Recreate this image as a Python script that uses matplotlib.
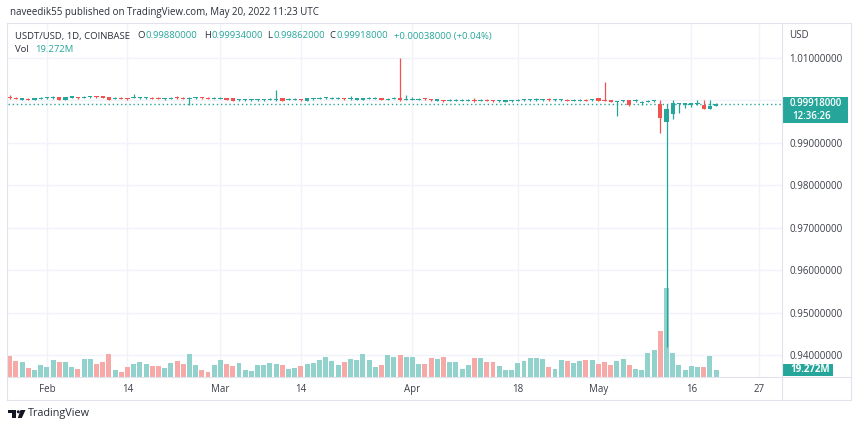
import numpy as np
import pandas as pd
import matplotlib
matplotlib.use("Agg")
import matplotlib.pyplot as plt
import matplotlib.dates as mdates
import matplotlib.transforms as mtransforms
from matplotlib.patches import Rectangle, Polygon, Circle

plt.rcParams['font.family'] = ['Open Sans', 'DejaVu Sans']

# -------------------------------------------------
# colours
# -------------------------------------------------
UP = '#26a69a'
DOWN = '#ef5350'
UP_VOL = '#92d2cc'
DOWN_VOL = '#f7a9a7'
TXT = '#3b3e48'
DARK = '#2a2e39'
GRID = '#f0f3fa'
BORDER = '#e0e3eb'

# -------------------------------------------------
# data: USDT/USD daily, Coinbase
# -------------------------------------------------
dates = pd.date_range('2022-01-26', '2022-05-20', freq='D')

opens = [
    1.00090, 1.00067, 1.00020, 1.00043, 1.00020, 1.00037, 1.00051, 1.00051, 1.00082, 1.00022,
    1.00068, 1.00081, 1.00060, 1.00075, 1.00105, 1.00098, 1.00082, 1.00037, 1.00067, 1.00057,
    1.00060, 1.00051, 1.00051, 1.00067, 1.00067, 1.00027, 1.00037, 1.00081, 1.00067, 1.00037,
    1.00051, 1.00081, 1.00067, 1.00037, 1.00037, 1.00050, 1.00058, 1.00004, 1.00004, 1.00004,
    1.00004, 1.00004, 1.00013, 1.00009, 1.00058, 1.00013, 1.00013, 1.00034, 0.99989, 1.00027,
    1.00037, 1.00051, 1.00037, 1.00037, 1.00057, 1.00027, 1.00020, 1.00020, 1.00037, 1.00037,
    1.00050, 1.00013, 1.00037, 1.00050, 1.00013, 1.00013, 1.00013, 1.00057, 1.00034, 0.99997,
    1.00010, 0.99990, 0.99990, 0.99990, 0.99990, 1.00020, 0.99990, 1.00020, 1.00010, 0.99980,
    0.99973, 0.99980, 0.99990, 1.00004, 1.00004, 1.00004, 1.00004, 1.00034, 1.00004, 1.00004,
    1.00020, 0.99990, 0.99990, 1.00020, 1.00004, 1.00058, 1.00010, 1.00000, 0.99970, 0.99980,
    1.00010, 0.99980, 0.99930, 0.99970, 0.99980, 0.99917, 0.99493, 0.99682, 0.99906, 0.99903,
    0.99900, 0.99910, 0.99894, 0.99800, 0.99880,
]
highs = [
    1.00120, 1.00077, 1.00060, 1.00053, 1.00060, 1.00077, 1.00091, 1.00100, 1.00092, 1.00092,
    1.00108, 1.00091, 1.00100, 1.00115, 1.00115, 1.00108, 1.00092, 1.00077, 1.00077, 1.00067,
    1.00153, 1.00091, 1.00091, 1.00077, 1.00077, 1.00067, 1.00077, 1.00115, 1.00077, 1.00077,
    1.00091, 1.00091, 1.00077, 1.00077, 1.00077, 1.00060, 1.00068, 1.00044, 1.00044, 1.00044,
    1.00044, 1.00044, 1.00053, 1.00248, 1.00068, 1.00053, 1.00053, 1.00044, 1.00059, 1.00067,
    1.00077, 1.00091, 1.00077, 1.00077, 1.00067, 1.00100, 1.00060, 1.00060, 1.00077, 1.00077,
    1.00060, 1.00053, 1.00077, 1.01000, 1.00130, 1.00075, 1.00053, 1.00067, 1.00044, 1.00037,
    1.00020, 1.00030, 1.00030, 1.00030, 1.00030, 1.00050, 1.00030, 1.00030, 1.00020, 1.00020,
    1.00013, 1.00020, 1.00030, 1.00044, 1.00044, 1.00060, 1.00044, 1.00070, 1.00044, 1.00044,
    1.00030, 1.00030, 1.00030, 1.00030, 1.00044, 1.00068, 1.00440, 1.00010, 0.99995, 1.00005,
    1.00020, 1.00025, 0.99980, 1.00010, 1.00020, 1.00000, 0.99917, 1.00012, 0.99950, 0.99945,
    0.99945, 1.00000, 1.00012, 1.00012, 0.99934,
]
lows = [
    1.00045, 1.00027, 1.00010, 1.00003, 1.00010, 1.00027, 1.00041, 1.00041, 1.00012, 1.00012,
    1.00058, 1.00041, 1.00050, 1.00065, 1.00065, 1.00058, 1.00012, 1.00027, 1.00027, 1.00017,
    1.00050, 1.00041, 1.00041, 1.00027, 1.00027, 1.00017, 1.00027, 1.00041, 1.00027, 0.99894,
    1.00041, 1.00041, 1.00027, 1.00027, 1.00027, 1.00010, 0.99988, 0.99994, 0.99994, 0.99994,
    0.99994, 0.99994, 1.00003, 0.99999, 0.99988, 1.00003, 1.00003, 0.99994, 0.99979, 1.00017,
    1.00027, 1.00041, 1.00027, 1.00027, 1.00017, 1.00017, 1.00010, 1.00010, 1.00027, 1.00027,
    1.00010, 1.00003, 1.00027, 0.99995, 1.00003, 1.00003, 1.00003, 1.00017, 0.99994, 0.99987,
    0.99970, 0.99980, 0.99980, 0.99980, 0.99980, 0.99960, 0.99980, 0.99980, 0.99970, 0.99970,
    0.99963, 0.99970, 0.99980, 0.99994, 0.99994, 0.99994, 0.99994, 0.99994, 0.99994, 0.99994,
    0.99980, 0.99980, 0.99980, 0.99980, 0.99994, 0.99988, 0.99980, 0.99960, 0.99630, 0.99970,
    0.99880, 0.99970, 0.99890, 0.99960, 0.99970, 0.99233, 0.94186, 0.99564, 0.99705, 0.99823,
    0.99847, 0.99895, 0.99790, 0.99790, 0.99862,
]
closes = [
    1.00060, 1.00037, 1.00050, 1.00013, 1.00050, 1.00067, 1.00081, 1.00081, 1.00022, 1.00082,
    1.00098, 1.00051, 1.00090, 1.00105, 1.00075, 1.00068, 1.00022, 1.00067, 1.00037, 1.00027,
    1.00090, 1.00081, 1.00081, 1.00037, 1.00037, 1.00057, 1.00067, 1.00051, 1.00037, 1.00067,
    1.00081, 1.00051, 1.00037, 1.00067, 1.00067, 1.00020, 0.99998, 1.00034, 1.00034, 1.00034,
    1.00034, 1.00034, 1.00043, 1.00039, 0.99998, 1.00043, 1.00043, 1.00004, 1.00049, 1.00057,
    1.00067, 1.00081, 1.00067, 1.00067, 1.00027, 1.00057, 1.00050, 1.00050, 1.00067, 1.00067,
    1.00020, 1.00043, 1.00067, 1.00020, 1.00043, 1.00043, 1.00043, 1.00027, 1.00004, 1.00027,
    0.99980, 1.00020, 1.00020, 1.00020, 1.00020, 0.99990, 1.00020, 0.99990, 0.99980, 1.00010,
    1.00003, 1.00010, 1.00020, 1.00034, 1.00034, 1.00034, 1.00034, 1.00004, 1.00034, 1.00034,
    0.99990, 1.00020, 1.00020, 0.99990, 1.00034, 0.99998, 0.99990, 0.99975, 0.99985, 0.99995,
    0.99890, 1.00005, 0.99970, 0.99990, 1.00000, 0.99594, 0.99800, 0.99941, 0.99935, 0.99930,
    0.99930, 0.99935, 0.99800, 0.99877, 0.99918,
]
# volume in millions
volumes = [
    57.8, 44.0, 41.3, 24.8, 19.3, 33.0, 27.5, 46.8, 41.3, 41.3,
    27.5, 22.0, 49.5, 49.5, 35.8, 41.3, 63.3, 19.3, 13.8, 27.5,
    35.8, 41.3, 35.8, 30.3, 30.3, 24.8, 38.5, 44.0, 35.8, 63.3,
    33.0, 19.3, 13.8, 33.0, 46.8, 35.8, 30.3, 38.5, 19.3, 16.5,
    33.0, 33.0, 38.5, 35.8, 33.0, 22.0, 24.8, 30.3, 35.8, 38.5,
    46.8, 55.0, 44.0, 33.0, 41.3, 49.5, 46.8, 63.3, 46.8, 27.5,
    33.0, 60.5, 55.0, 60.5, 55.0, 55.0, 35.8, 35.8, 52.3, 49.5,
    55.0, 41.3, 41.3, 22.0, 33.0, 52.3, 52.3, 41.3, 41.3, 30.3,
    19.3, 19.3, 38.5, 44.0, 52.3, 52.3, 49.5, 27.5, 22.0, 46.8,
    44.0, 38.5, 44.0, 46.8, 46.8, 35.8, 41.3, 33.0, 44.0, 49.5,
    33.0, 22.0, 19.3, 66.0, 74.3, 123.8, 242.0, 66.0, 33.0, 19.3,
    30.3, 27.5, 27.5, 57.8, 19.272,
]

price_ticks = [0.94, 0.95, 0.96, 0.97, 0.98, 0.99, 1.00, 1.01]
time_ticks = ['2022-02-01', '2022-02-14', '2022-03-01', '2022-03-14', '2022-04-01',
              '2022-04-18', '2022-05-01', '2022-05-16', '2022-05-27']
time_labels = ['Feb', '14', 'Mar', '14', 'Apr', '18', 'May', '16', '27']

last_price = 0.99918
last_vol = 19.272

# -------------------------------------------------
# figure / axes (pixel layout of the screenshot)
# -------------------------------------------------
W, H = 860, 430
fig = plt.figure(figsize=(W / 100, H / 100), dpi=100)
L, R, T, B = 7.5, 782, 23, 377
rect = [L / W, 1 - B / H, (R - L) / W, (B - T) / H]

axv = fig.add_axes(rect)
ax = fig.add_axes(rect, sharex=axv)
ax.patch.set_alpha(0)

x = mdates.date2num(dates)
o = np.array(opens)
h = np.array(highs)
l = np.array(lows)
c = np.array(closes)
up = c >= o

x0 = x[0]
ax.set_xlim(x0 - 0.36, x0 + 124.64)
ax.set_ylim(0.934788, 1.018278)
axv.set_ylim(0, 962)

# grid (behind the volume bars)
blend = mtransforms.blended_transform_factory(axv.transAxes, ax.transData)
for p in price_ticks:
    axv.plot([0, 1], [p, p], transform=blend, color=GRID, lw=1, zorder=0)
for d in time_ticks:
    axv.axvline(mdates.datestr2num(d), color=GRID, lw=1, zorder=0)

# volume
axv.bar(x, volumes, width=0.8, color=np.where(up, UP_VOL, DOWN_VOL), linewidth=0, zorder=2)

# candles
cols = np.where(up, UP, DOWN)
ax.vlines(x, l, h, colors=cols, lw=0.9, zorder=3)
body_lo = np.minimum(o, c)
body_h = np.maximum(np.abs(c - o), 0.0002)
ax.bar(x, body_h, bottom=body_lo, width=0.7, color=cols, linewidth=0, zorder=4)

# last price dotted line
ax.axhline(last_price, color=UP, lw=1, ls=(0, (1, 2)), zorder=2)

for a in (ax, axv):
    for s in a.spines.values():
        s.set_visible(False)
axv.set_yticks([])
axv.tick_params(axis='x', length=0, labelbottom=False)

# the 1.00 label sits under the last-price badge, so it is left blank
ax.yaxis.tick_right()
ax.set_yticks(price_ticks)
ax.set_yticklabels(['' if abs(p - 1.0) < 1e-9 else f'{p:.8f}' for p in price_ticks])
ax.tick_params(axis='y', length=0, pad=5.5, labelsize=7, colors=TXT)
ax.set_xticks([mdates.datestr2num(d) for d in time_ticks])
ax.set_xticklabels(time_labels)
ax.tick_params(axis='x', length=0, pad=5, labelsize=7, colors=TXT)

# -------------------------------------------------
# overlay in pixel coordinates: frame, legend, labels
# -------------------------------------------------
ov = fig.add_axes([0, 0, 1, 1], zorder=10)
ov.set_xlim(0, W)
ov.set_ylim(H, 0)
ov.axis('off')
ov.patch.set_alpha(0)

for xs, ys in [([7, 851], [23, 23]), ([7, 851], [400, 400]), ([7, 7], [23, 400]),
               ([851, 851], [23, 400]), ([782, 782], [23, 400]), ([7, 851], [377, 377])]:
    ov.plot(xs, ys, color=BORDER, lw=0.8)

renderer = fig.canvas.get_renderer()


def chain(x, y, parts, size):
    for s, col, gap in parts:
        t = ov.text(x, y, s, color=col, fontsize=size, va='center', ha='left')
        x += t.get_window_extent(renderer).width + gap
    return x


ov.text(10, 12, 'naveedik55 published on TradingView.com, May 20, 2022 11:23 UTC',
        fontsize=7.0, color=DARK, va='center', ha='left')

chain(15, 36, [('USDT/USD, 1D, COINBASE', DARK, 7),
               ('O', DARK, 0.5), ('0.99880000', UP, 7),
               ('H', DARK, 0.5), ('0.99934000', UP, 5),
               ('L', DARK, 0.5), ('0.99862000', UP, 5),
               ('C', DARK, 0.5), ('0.99918000', UP, 6),
               ('+0.00038000 (+0.04%)', UP, 0)], 6.8)
chain(15, 49, [('Vol', DARK, 6), ('19.272M', UP, 0)], 6.8)

ov.text(789, 35, 'USD', fontsize=7, color=TXT, va='center', ha='left')

# last price label
py = H - ax.transData.transform((x0, last_price))[1]
ov.add_patch(Rectangle((782, py - 7), 66, 26, color=UP, lw=0))
ov.text(790, py, f'{last_price:.8f}', fontsize=7, color='white', va='center', ha='left',
        fontweight='semibold')
ov.text(792, py + 12.5, '12:36:26', fontsize=7, color='white', va='center', ha='left',
        fontweight='semibold')

# last volume label
vy = H - axv.transData.transform((x0, last_vol))[1]
ov.add_patch(Rectangle((782, vy - 6), 51, 12, color=UP, lw=0))
ov.text(790, vy, f'{last_vol:.3f}M', fontsize=7, color='white', va='center', ha='left',
        fontweight='bold')

# TradingView logo
ov.add_patch(Rectangle((8.3, 410), 7.7, 2.8, color='#131722', lw=0))
ov.add_patch(Rectangle((11.8, 410), 4.2, 8, color='#131722', lw=0))
ov.add_patch(Circle((18.3, 411.8), 1.5, color='#131722', lw=0))
ov.add_patch(Polygon([(20.5, 410), (25.5, 410), (21.8, 418), (17.8, 418)], closed=True,
                     color='#131722', lw=0))
ov.text(28, 413.5, 'TradingView', fontsize=7.8, color=DARK, va='center', ha='left')

fig.savefig('out.png', dpi=100)
plt.close(fig)
